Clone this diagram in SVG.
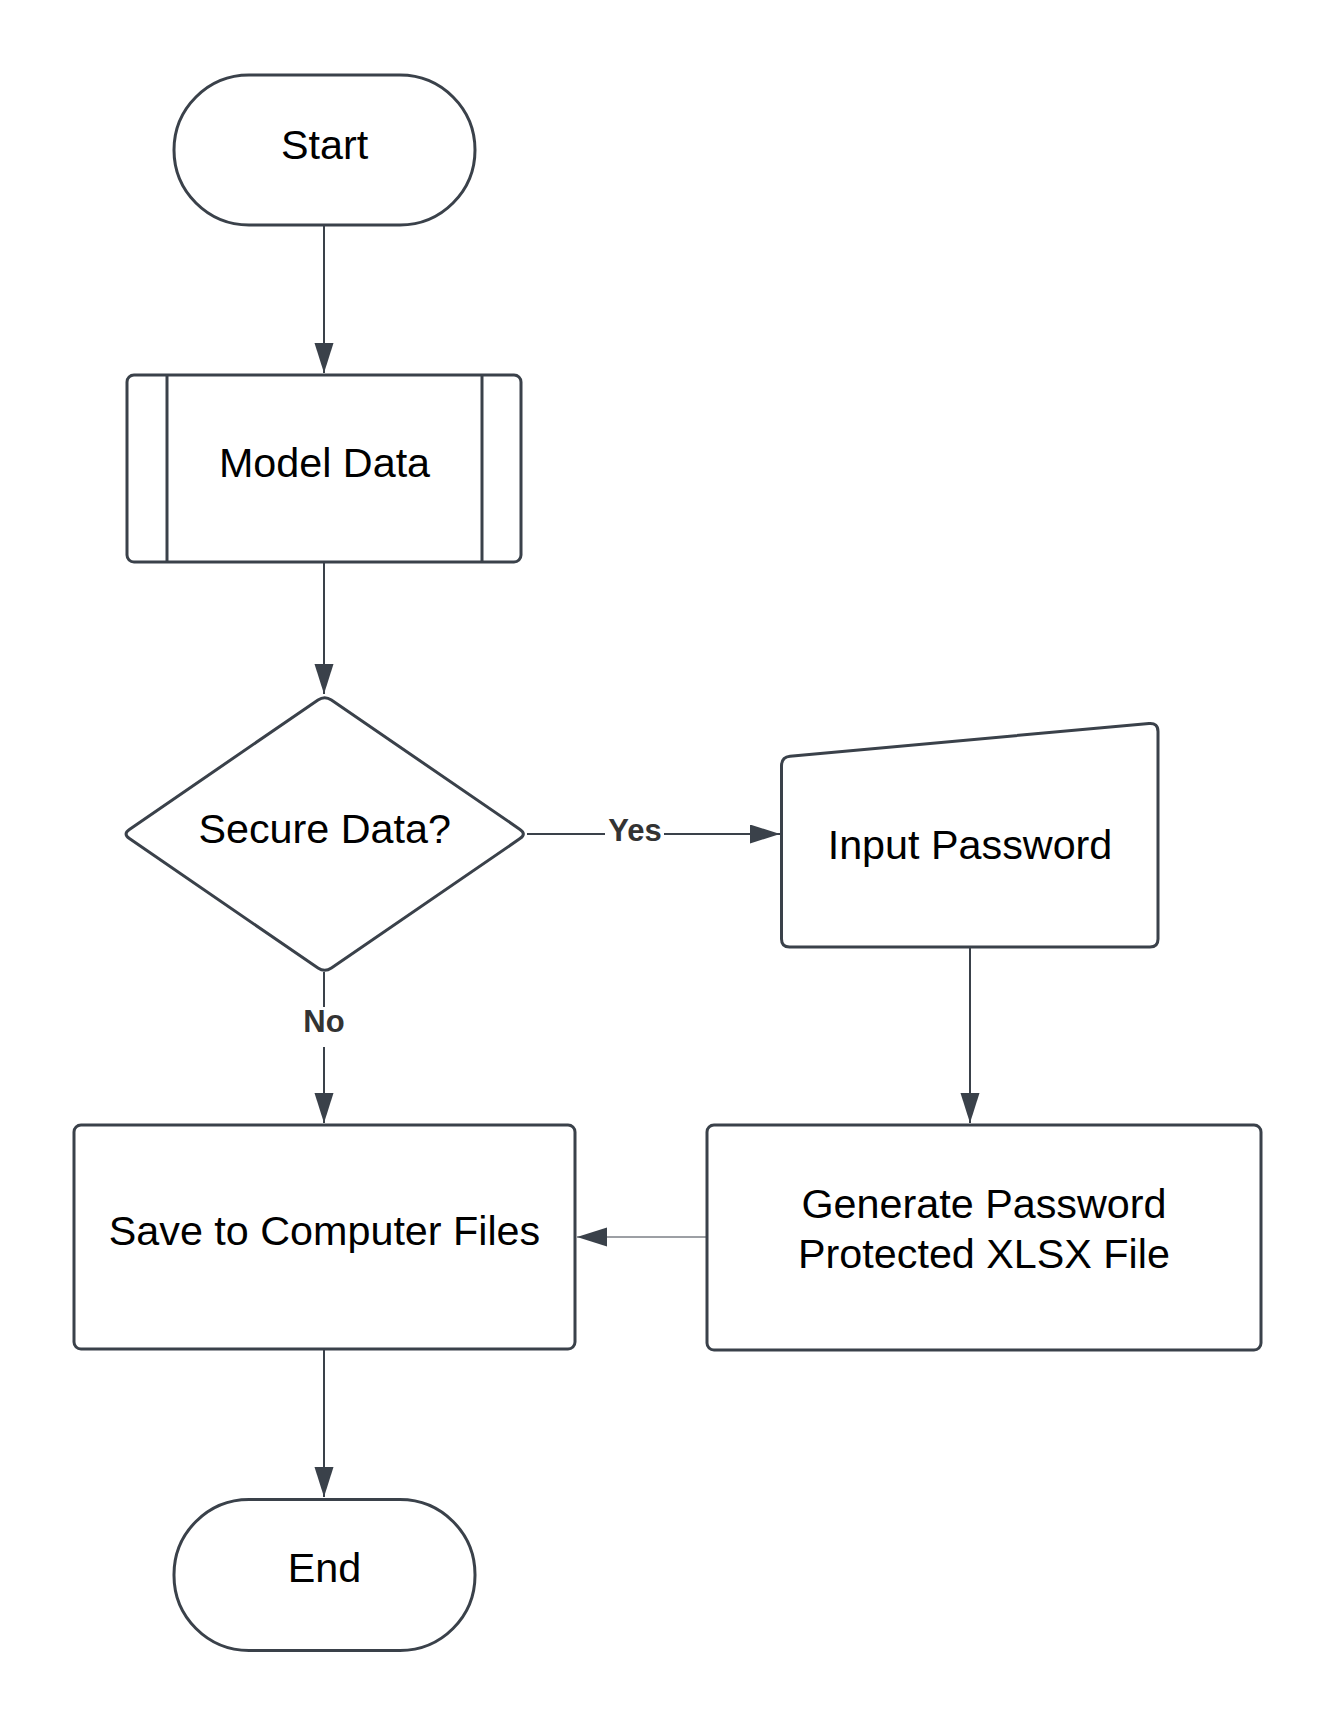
<svg xmlns="http://www.w3.org/2000/svg" width="1337" height="1725" viewBox="0 0 1337 1725">
  <style>
    .node { fill: #ffffff; stroke: #3a414a; stroke-width: 3; stroke-linejoin: round; }
    .sub { fill: none; stroke: #3a414a; stroke-width: 3; }
    .txt { font-family: "Liberation Sans", Arial, sans-serif; font-size: 41.3px; fill: #000000; text-anchor: middle; }
    .lbl { font-family: "Liberation Sans", Arial, sans-serif; font-size: 31px; font-weight: bold; fill: #333333; text-anchor: middle; }
    .conn { fill: none; stroke: #3a414a; stroke-width: 2; }
    .thin { fill: none; stroke: #3a414a; stroke-width: 1; }
  </style>
  <defs>
    <marker id="arrow" markerUnits="userSpaceOnUse" markerWidth="31" markerHeight="20" refX="30" refY="9.5" orient="auto">
      <path d="M0,0 L30,9.5 L0,19 Z" fill="#3a414a"/>
    </marker>
  </defs>
  <rect width="1337" height="1725" fill="#ffffff"/>

  <g id="connectors">
    <line class="conn" x1="324" y1="225" x2="324" y2="373" marker-end="url(#arrow)"/>
    <line class="conn" x1="324" y1="562" x2="324" y2="694" marker-end="url(#arrow)"/>
    <line class="conn" x1="527" y1="834" x2="605" y2="834"/>
    <line class="conn" x1="664" y1="834" x2="780" y2="834" marker-end="url(#arrow)"/>
    <text class="lbl" x="635" y="841">Yes</text>
    <line class="conn" x1="324" y1="972" x2="324" y2="1007"/>
    <line class="conn" x1="324" y1="1047" x2="324" y2="1123" marker-end="url(#arrow)"/>
    <text class="lbl" x="324" y="1032">No</text>
    <line class="conn" x1="970" y1="947" x2="970" y2="1123" marker-end="url(#arrow)"/>
    <line class="thin" x1="707" y1="1237" x2="577" y2="1237" marker-end="url(#arrow)"/>
    <line class="conn" x1="324" y1="1349" x2="324" y2="1497" marker-end="url(#arrow)"/>
  </g>

  <g id="start">
    <rect class="node" x="174" y="75" width="301" height="150" rx="75" ry="75"/>
    <text class="txt" x="324.5" y="159">Start</text>
  </g>

  <g id="model-data">
    <rect class="node" x="127" y="375" width="394" height="187" rx="7" ry="7"/>
    <line class="sub" x1="167" y1="375" x2="167" y2="562"/>
    <line class="sub" x1="482" y1="375" x2="482" y2="562"/>
    <text class="txt" x="324.5" y="477">Model Data</text>
  </g>

  <g id="secure-data">
    <path class="node" d="M318,700 Q324.7,695.5 331.4,700 L520,829.4 Q526.7,834 520,838.6 L331.4,968 Q324.7,972.5 318,968 L129.4,838.6 Q122.7,834 129.4,829.4 Z"/>
    <text class="txt" x="324.7" y="843">Secure Data?</text>
  </g>

  <g id="input-password">
    <path class="node" d="M781.5,766 Q781.5,757 790,756.2 L1149,723.5 Q1158,722.7 1158,731.5 L1158,939 Q1158,947 1150,947 L789.5,947 Q781.5,947 781.5,939 Z"/>
    <text class="txt" x="970" y="859">Input Password</text>
  </g>

  <g id="generate-file">
    <rect class="node" x="707" y="1125" width="554" height="225" rx="7" ry="7"/>
    <text class="txt" x="984" y="1218">Generate Password</text>
    <text class="txt" x="984" y="1268">Protected XLSX File</text>
  </g>

  <g id="save-files">
    <rect class="node" x="74" y="1125" width="501" height="224" rx="7" ry="7"/>
    <text class="txt" x="324.5" y="1245">Save to Computer Files</text>
  </g>

  <g id="end">
    <rect class="node" x="174" y="1499.5" width="301" height="151" rx="75" ry="75"/>
    <text class="txt" x="324.5" y="1582">End</text>
  </g>
</svg>
